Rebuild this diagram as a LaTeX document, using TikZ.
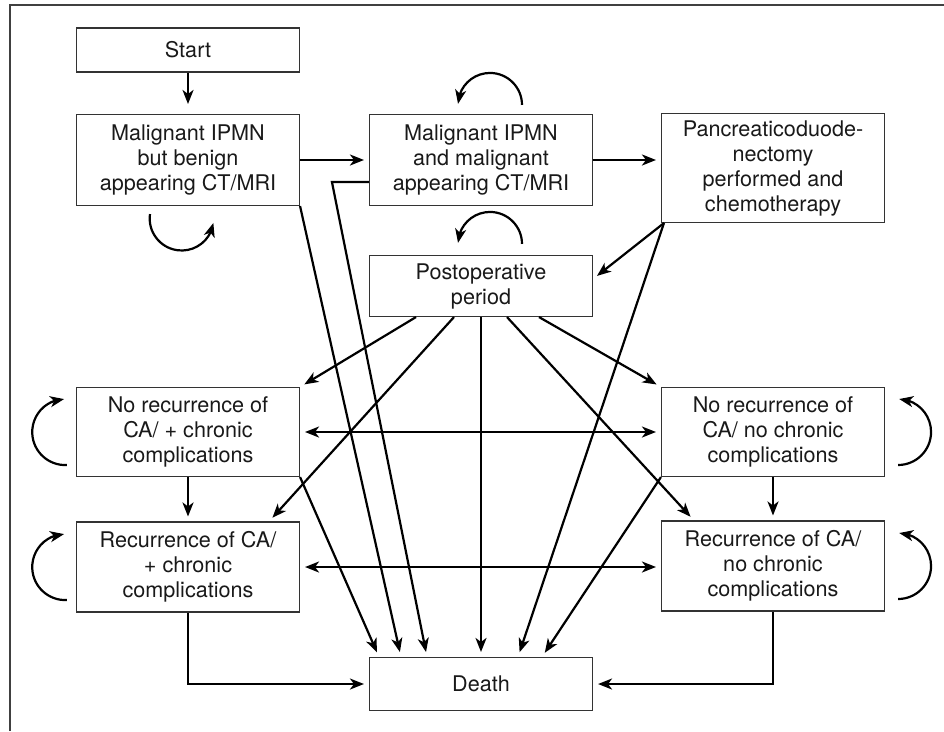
\documentclass[tikz,border=0pt]{standalone}
\usepackage{amsmath}
\usepackage{fontspec}
\setmainfont{TeX Gyre Heros}
\usetikzlibrary{arrows.meta,bending}

\begin{document}
\begin{tikzpicture}[x=1pt,y=-1pt,
	>={Stealth[length=14pt,width=11pt,inset=4pt]},
	stage/.style={draw=black!80,line width=1.1pt,minimum width=223pt,inner sep=0pt,align=center,text=black!90,font=\fontsize{21.6}{25}\selectfont},
	trans/.style={line width=2.2pt,->,shorten >=5pt},
	twoway/.style={trans,<->,shorten <=5pt},
	selfloop/.style={line width=2.2pt,->}]
\useasboundingbox (0,0) rectangle (944,731);
\draw[line width=1.5pt,black!75] (10,731) -- (10,5) -- (944,5) ; % frame

\node[stage,minimum height=44pt] (start) at (188,50) {Start}; % Start
\node[stage,minimum height=91pt] (benign) at (188,160) {Malignant IPMN\\but benign\\appearing CT/MRI}; % benign CT
\node[stage,minimum height=91pt] (malig) at (481,160) {Malignant IPMN\\and malignant\\appearing CT/MRI}; % malignant CT
\node[stage,minimum height=109pt] (surgery) at (773,168) {Pancreaticoduode-\\nectomy\\performed and\\chemotherapy}; % surgery
\node[stage,minimum height=61pt] (postop) at (481,286) {Postoperative\\period}; % postop
\node[stage,minimum height=89pt] (norecchr) at (188,432) {No recurrence of\\CA/ + chronic\\complications}; % no rec, chronic
\node[stage,minimum height=90pt] (recchr) at (188,567) {Recurrence of CA/\\+ chronic\\complications}; % rec, chronic
\node[stage,minimum height=89pt] (norecnone) at (773,432) {No recurrence of\\CA/ no chronic\\complications}; % no rec, none
\node[stage,minimum height=90pt] (recnone) at (773,566) {Recurrence of CA/\\no chronic\\complications}; % rec, none
\node[stage,minimum height=53pt] (death) at (481,684) {Death}; % Death

\draw[trans,shorten >=10pt] (start) -- (benign) ; % start
\draw[trans] (benign) -- (malig) ; % progression
\draw[trans] (malig.east) -- (malig.east -| surgery.west) ; % operation
\draw[trans] ([xshift=3pt]surgery.south west) -- ([yshift=7pt]postop.east) ; % to postop
\draw[trans] ([xshift=3pt]surgery.south west) -- ([xshift=37pt]death.north) ; % surgery death
\draw[trans] (benign.south east) -- ([xshift=-80pt]death.north) ; % benign death
\draw[trans] ([yshift=-22pt]malig.west) -- ++(-37,0) -- ([xshift=-54pt]death.north) ; % malignant death
\draw[trans] (norecchr.south east) -- ([xshift=-102pt]death.north) ; % no rec chronic death
\draw[trans] ([xshift=-65pt]postop.south) -- (norecchr.north east) ; % postop 1
\draw[trans] ([xshift=-27pt]postop.south) -- ([xshift=-31pt]recchr.north east) ; % postop 2
\draw[trans] (postop) -- (death) ; % postop death
\draw[trans] ([xshift=58pt]postop.south) -- (norecnone.north west) ; % postop 3
\draw[trans] ([xshift=26pt]postop.south) -- ([xshift=33pt]recnone.north west) ; % postop 4
\draw[trans] (norecnone.south west) -- ([xshift=61pt]death.north) ; % no rec none death
\draw[twoway] (norecchr) -- (norecnone) ; % chronic swap
\draw[twoway] (recchr.east) -- (recchr.east -| recnone.west) ; % chronic swap
\draw[trans] (norecchr) -- (recchr) ; % recurrence
\draw[trans] (norecnone) -- (recnone) ; % recurrence
\draw[trans] (recchr.south) |- (death.west) ; % rec chronic death
\draw[trans] (recnone.south) |- (death.east) ; % rec none death

\draw[selfloop] ([shift={(-38,8)}]benign.south) arc (172:352:32pt) ; % stay
\draw[selfloop] ([shift={(41,-9)}]malig.north) arc (0:178:32pt) ; % stay
\draw[selfloop] ([shift={(41,-11)}]postop.north) arc (0:178:32pt) ; % stay
\draw[selfloop] ([shift={(-9,33)}]norecchr.west) arc (273:92:33pt) ; % stay
\draw[selfloop] ([shift={(-9,33)}]recchr.west) arc (273:92:33pt) ; % stay
\draw[selfloop] ([shift={(13,33)}]norecnone.east) arc (-90:88:33pt) ; % stay
\draw[selfloop] ([shift={(13,33)}]recnone.east) arc (-90:88:33pt) ; % stay
\end{tikzpicture}
\end{document}
